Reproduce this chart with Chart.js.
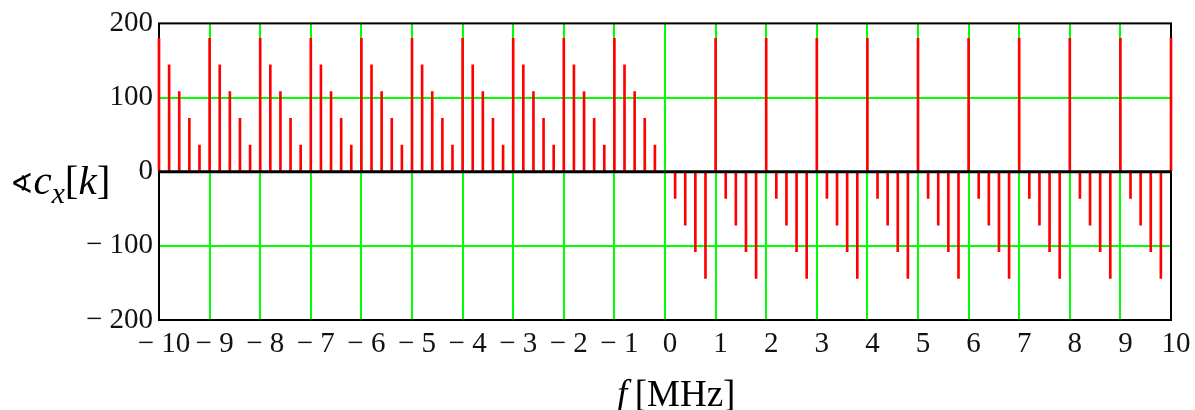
<!DOCTYPE html>
<html>
<head>
<meta charset="utf-8">
<script src="https://cdn.jsdelivr.net/npm/chart.js@4/dist/chart.umd.min.js"></script>
<style>
  html, body { margin: 0; padding: 0; background: #fff; }
  #wrap { position: relative; width: 1195px; height: 410px; overflow: hidden; }
  canvas { position: absolute; left: 0; top: 0; }
  .ttl { position: absolute; font-family: "Liberation Serif", "DejaVu Serif", serif; color: #000; white-space: nowrap; line-height: 1; }
  .ttl i { font-style: italic; }
  .ttl sub { font-size: 0.72em; vertical-align: -0.3em; }
</style>
</head>
<body>
<div id="wrap">
  <canvas id="c" width="1195" height="410"></canvas>
  <div class="ttl" id="ytitle" style="left:10px; top:160px; font-size:41px;"><span style="font-family:'DejaVu Sans';font-size:28px;vertical-align:0.05em;">∢</span><i>c</i><sub><i>x</i></sub>[<i>k</i>]</div>
  <div class="ttl" id="xtitle" style="left:617px; top:375px; font-size:37px;"><i>f</i>&thinsp;[MHz]</div>
</div>
<script>
// Frequencies (MHz) of each spectral line
const freqMHz = [
  -10, -9.8, -9.6, -9.4, -9.2,
  -9, -8.8, -8.6, -8.4, -8.2,
  -8, -7.8, -7.6, -7.4, -7.2,
  -7, -6.8, -6.6, -6.4, -6.2,
  -6, -5.8, -5.6, -5.4, -5.2,
  -5, -4.8, -4.6, -4.4, -4.2,
  -4, -3.8, -3.6, -3.4, -3.2,
  -3, -2.8, -2.6, -2.4, -2.2,
  -2, -1.8, -1.6, -1.4, -1.2,
  -1, -0.8, -0.6, -0.4, -0.2,
  0,
  0.2, 0.4, 0.6, 0.8, 1,
  1.2, 1.4, 1.6, 1.8, 2,
  2.2, 2.4, 2.6, 2.8, 3,
  3.2, 3.4, 3.6, 3.8, 4,
  4.2, 4.4, 4.6, 4.8, 5,
  5.2, 5.4, 5.6, 5.8, 6,
  6.2, 6.4, 6.6, 6.8, 7,
  7.2, 7.4, 7.6, 7.8, 8,
  8.2, 8.4, 8.6, 8.8, 9,
  9.2, 9.4, 9.6, 9.8, 10
];
// Phase of each coefficient (degrees)
const phaseDeg = [
  180, 144, 108, 72, 36,
  180, 144, 108, 72, 36,
  180, 144, 108, 72, 36,
  180, 144, 108, 72, 36,
  180, 144, 108, 72, 36,
  180, 144, 108, 72, 36,
  180, 144, 108, 72, 36,
  180, 144, 108, 72, 36,
  180, 144, 108, 72, 36,
  180, 144, 108, 72, 36,
  0,
  -36, -72, -108, -144, 180,
  -36, -72, -108, -144, 180,
  -36, -72, -108, -144, 180,
  -36, -72, -108, -144, 180,
  -36, -72, -108, -144, 180,
  -36, -72, -108, -144, 180,
  -36, -72, -108, -144, 180,
  -36, -72, -108, -144, 180,
  -36, -72, -108, -144, 180,
  -36, -72, -108, -144, 180
];
// Tick values and labels
const xTickValues = [-10,-9,-8,-7,-6,-5,-4,-3,-2,-1,0,1,2,3,4,5,6,7,8,9,10];
const xTickLabels = ['− 10','− 9','− 8','− 7','− 6','− 5','− 4','− 3','− 2','− 1','0','1','2','3','4','5','6','7','8','9','10'];
const yTickValues = [-200,-100,0,100,200];
const yTickLabels = ['− 200','− 100','0','100','200'];

const GREEN = '#00ff00';
const RED = '#ff0000';

const framePlugin = {
  id: 'frame',
  beforeDatasetsDraw(chart) {
    const {ctx, chartArea: a} = chart;
    ctx.save();
    ctx.strokeStyle = '#000';
    ctx.lineWidth = 2;
    ctx.strokeRect(a.left, a.top, a.right - a.left, a.bottom - a.top);
    ctx.restore();
  },
  afterDatasetsDraw(chart) {
    const {ctx, chartArea: a, scales} = chart;
    const y0 = scales.y.getPixelForValue(0);
    ctx.save();
    ctx.strokeStyle = '#000';
    ctx.lineWidth = 3;
    ctx.beginPath();
    ctx.moveTo(a.left, y0);
    ctx.lineTo(a.right, y0);
    ctx.stroke();
    ctx.restore();
  }
};

const tickFont = { family: '"Liberation Serif", "Times New Roman", serif', size: 29 };

new Chart(document.getElementById('c'), {
  type: 'bar',
  data: {
    datasets: [{
      data: freqMHz.map((f, i) => ({ x: f, y: phaseDeg[i] })),
      backgroundColor: RED,
      borderWidth: 0,
      barThickness: 2,
      grouped: false,
      clip: 4
    }]
  },
  options: {
    responsive: false,
    animation: false,
    devicePixelRatio: 1,
    layout: { padding: { top: 19, right: 24, bottom: 0, left: 0 } },
    plugins: { legend: { display: false }, tooltip: { enabled: false } },
    scales: {
      x: {
        type: 'linear',
        offset: false,
        min: -10, max: 10,
        afterBuildTicks(s) { s.ticks = xTickValues.map(v => ({ value: v })); },
        afterFit(s) { s.height = 90; },
        ticks: {
          autoSkip: false,
          maxRotation: 0,
          padding: 7,
          labelOffset: 5,
          color: '#111',
          font: tickFont,
          callback: (v) => xTickLabels[xTickValues.indexOf(v)]
        },
        grid: { offset: false, color: GREEN, lineWidth: 2, drawTicks: false },
        border: { display: false }
      },
      y: {
        min: -200, max: 200,
        afterBuildTicks(s) { s.ticks = yTickValues.map(v => ({ value: v })); },
        afterFit(s) { s.width = 159; },
        ticks: {
          padding: 6,
          color: '#111',
          font: tickFont,
          callback: (v) => yTickLabels[yTickValues.indexOf(v)]
        },
        grid: {
          color: (c) => (c.tick && Math.abs(c.tick.value) === 100) ? GREEN : 'rgba(0,0,0,0)',
          lineWidth: 2,
          drawTicks: false
        },
        border: { display: false }
      }
    }
  },
  plugins: [framePlugin]
});
</script>
</body>
</html>
